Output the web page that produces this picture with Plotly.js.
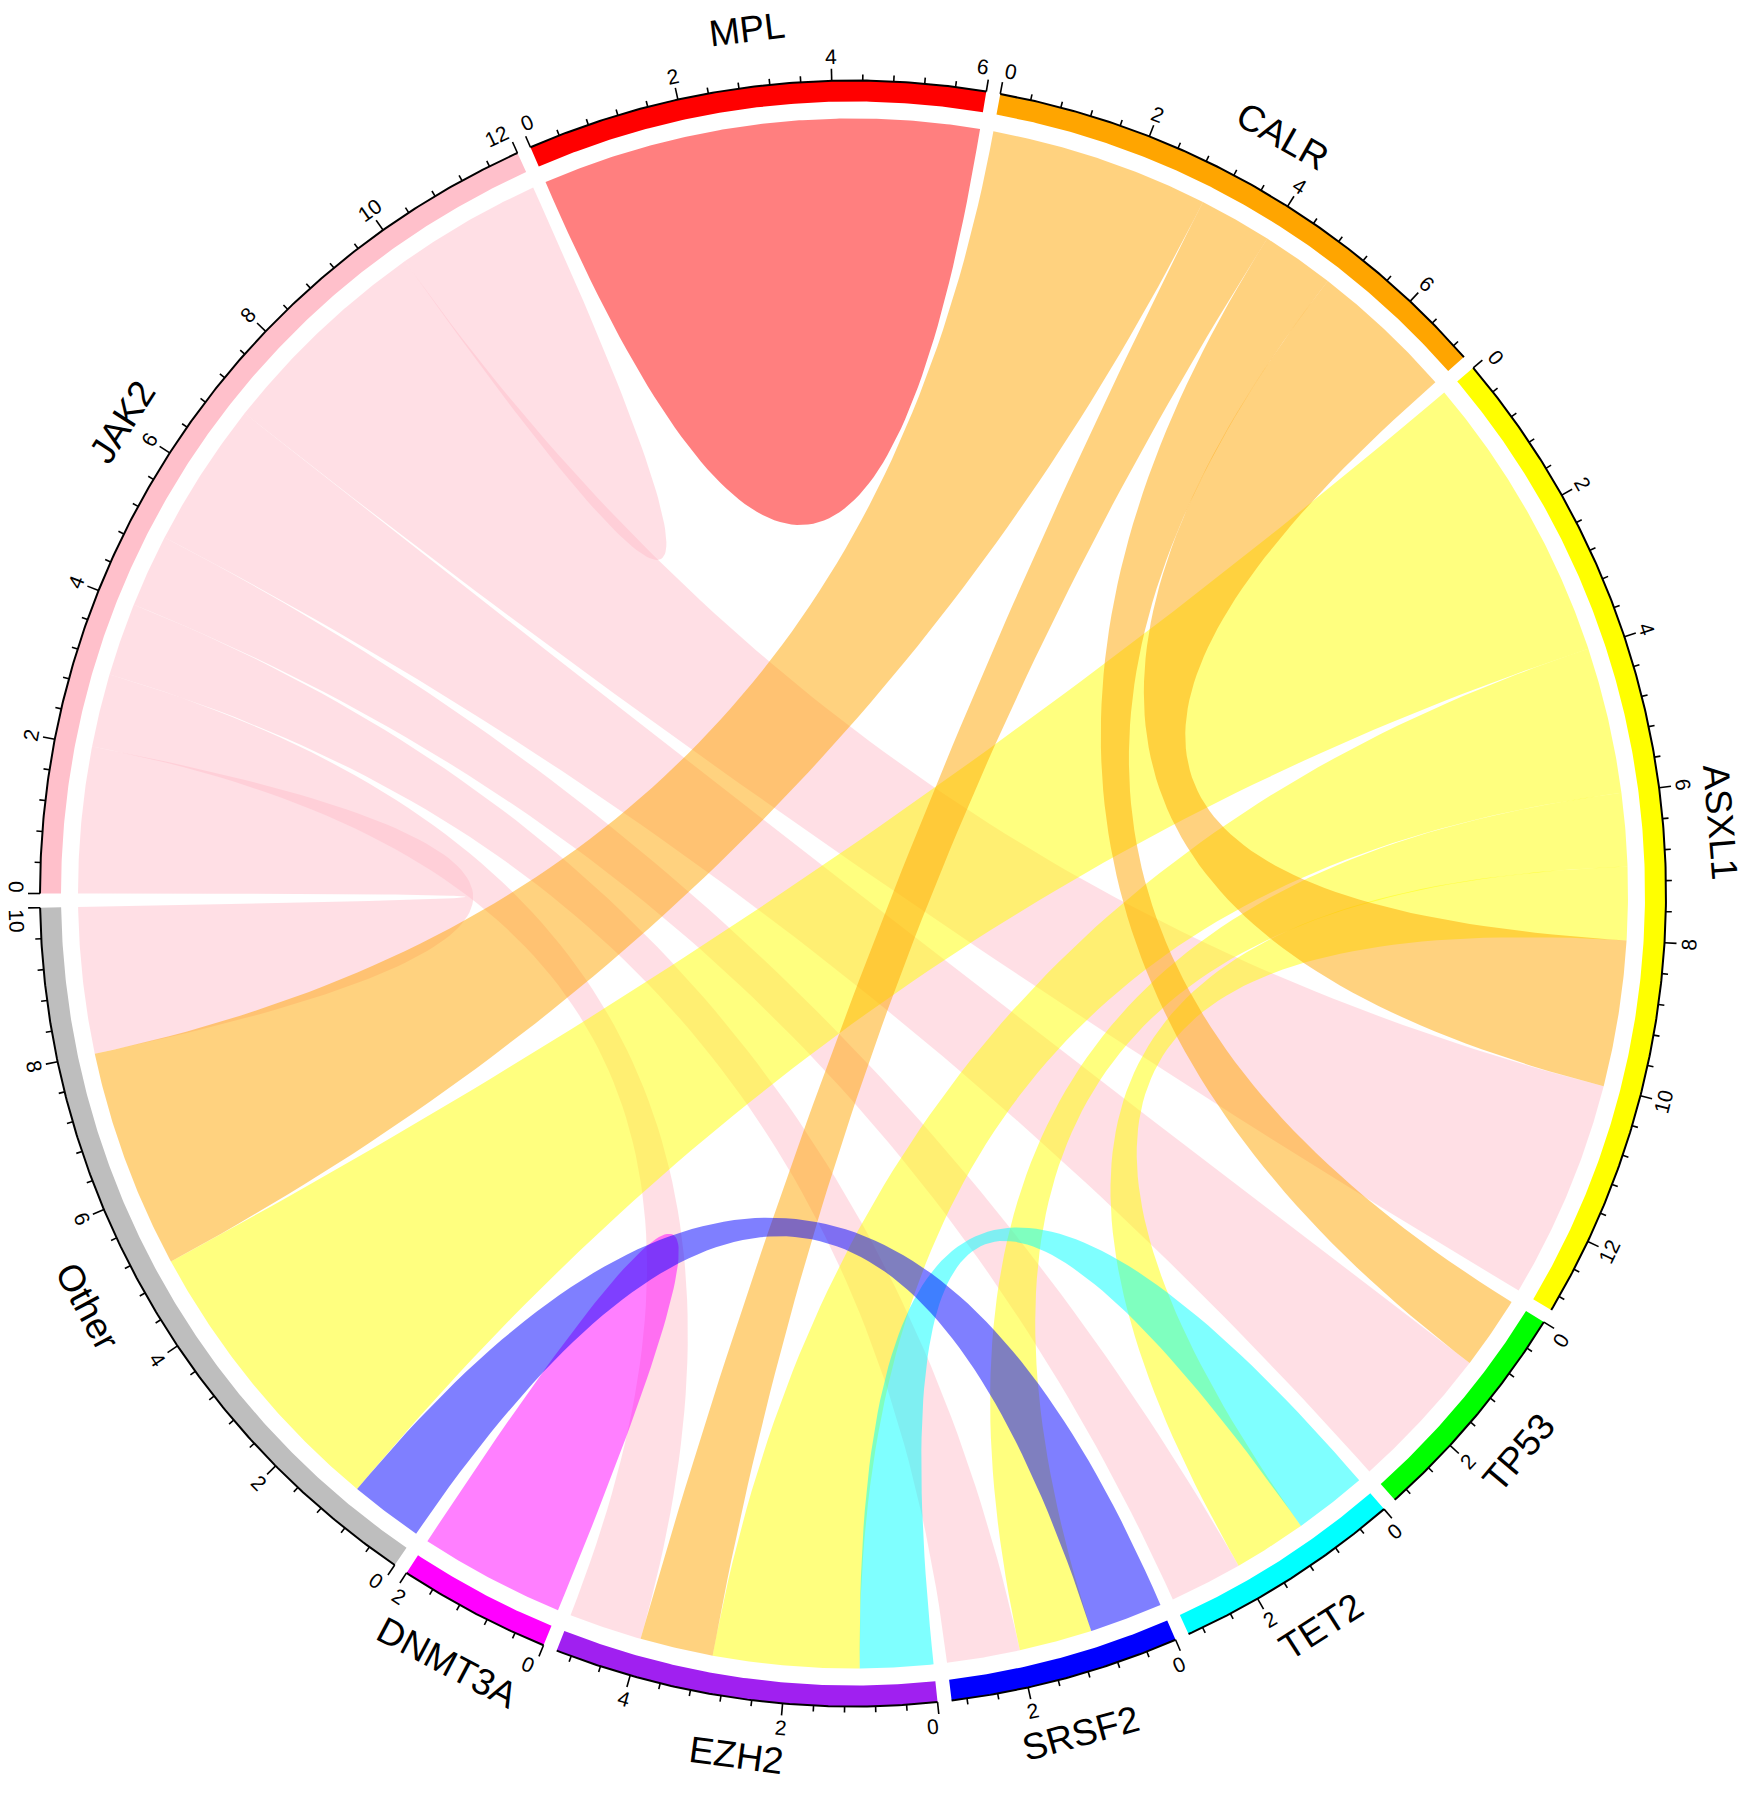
<!DOCTYPE html>
<html>
<head>
<meta charset="utf-8">
<script src="https://cdn.plot.ly/plotly-3.0.1.min.js"></script>
<style>body{margin:0;background:#fff}</style>
</head>
<body>
<div id="chord" style="width:1759px;height:1800px"></div>
<script>
// sectors, clockwise starting at 9 o'clock
var genes = ["JAK2", "MPL", "CALR", "ASXL1", "TP53", "TET2", "SRSF2", "EZH2", "DNMT3A", "Other"];
var geneColors = ["#FFC0CB", "#FF0000", "#FFA500", "#FFFF00", "#00FF00", "#00FFFF", "#0000FF", "#A020F0", "#FF00FF", "#BEBEBE"];

// co-mutation links, in drawing order (first one is at the bottom)
var linkFrom  = ["JAK2", "JAK2", "JAK2", "JAK2", "JAK2", "JAK2", "JAK2",
                 "ASXL1", "ASXL1", "ASXL1", "ASXL1",
                 "CALR", "CALR", "CALR", "CALR",
                 "MPL", "DNMT3A", "TET2", "SRSF2"];
var linkTo    = ["Other", "EZH2", "SRSF2", "TET2", "TP53", "ASXL1", "JAK2",
                 "Other", "EZH2", "SRSF2", "TET2",
                 "Other", "EZH2", "TP53", "ASXL1",
                 "MPL", "DNMT3A", "EZH2", "Other"];
var linkValue = [2, 1, 1, 1, 2, 3, 1,
                 4, 2, 1, 1,
                 3, 1, 1, 2,
                 3, 1, 1, 1];

// geometry (pixels, centre of the circle at 0,0)
var R_LINK = 775, R_IN = 792, R_OUT = 813, R_TICKLAB = 837, R_NAME = 870;
var GAP = 1, START = 180, H_RATIO = 0.5;
var TICK_FONT = 21, NAME_FONT = 37;
var D2R = Math.PI / 180;

function idx(g) { return genes.indexOf(g); }
function rgba(hex, a) {
  var v = parseInt(hex.slice(1), 16);
  return "rgba(" + (v >> 16 & 255) + "," + (v >> 8 & 255) + "," + (v & 255) + "," + a + ")";
}

// sector sizes come from the links
var size = genes.map(function () { return 0; });
linkFrom.forEach(function (f, k) {
  size[idx(f)] += linkValue[k];
  size[idx(linkTo[k])] += linkValue[k];
});
var total = size.reduce(function (a, b) { return a + b; }, 0);
var unit = (360 - genes.length * GAP) / total;
var secStart = [];
var a0 = START;
genes.forEach(function (g, i) { secStart.push(a0); a0 -= size[i] * unit + GAP; });
function ang(i, p) { return secStart[i] - p * unit; }
function pt(theta, r) { return [r * Math.cos(theta * D2R), r * Math.sin(theta * D2R)]; }

// place link ends inside each sector: partners sorted by sector index, descending
var ends = genes.map(function () { return []; });
linkFrom.forEach(function (f, k) {
  var i = idx(f), j = idx(linkTo[k]);
  ends[i].push({k: k, e: 0, partner: j});
  ends[j].push({k: k, e: 1, partner: i});
});
var pos = linkFrom.map(function () { return [null, null]; });
ends.forEach(function (list, i) {
  list.sort(function (a, b) { return b.partner - a.partner || a.e - b.e; });
  var c = 0;
  list.forEach(function (o) {
    pos[o.k][o.e] = [c, c + linkValue[o.k]];
    c += linkValue[o.k];
  });
});

function arc(theta1, theta2, r, xs, ys) {
  var n = Math.max(2, Math.ceil(Math.abs(theta1 - theta2) / 0.25));
  for (var s = 0; s <= n; s++) {
    var p = pt(theta1 + (theta2 - theta1) * s / n, r);
    xs.push(p[0]); ys.push(p[1]);
  }
}
// quadratic curve between two link points; its top sits H_RATIO of the way to the centre
function bezier(t1, t2, xs, ys) {
  var p = pt(t1, R_LINK), q = pt(t2, R_LINK);
  var m = [(p[0] + q[0]) / 2, (p[1] + q[1]) / 2], d = Math.hypot(m[0], m[1]);
  var h = H_RATIO * d;
  var c = d > 1e-6 ? [m[0] - 2 * h * m[0] / d, m[1] - 2 * h * m[1] / d] : m;
  for (var s = 1; s < 80; s++) {
    var t = s / 80, u = 1 - t;
    xs.push(u * u * p[0] + 2 * u * t * c[0] + t * t * q[0]);
    ys.push(u * u * p[1] + 2 * u * t * c[1] + t * t * q[1]);
  }
}

var traces = [];

// chords
linkFrom.forEach(function (f, k) {
  var i = idx(f), j = idx(linkTo[k]);
  var s1 = ang(i, pos[k][0][0]), e1 = ang(i, pos[k][0][1]);
  var s2 = ang(j, pos[k][1][0]), e2 = ang(j, pos[k][1][1]);
  var xs = [], ys = [];
  arc(s1, e1, R_LINK, xs, ys);
  bezier(e1, s2, xs, ys);
  arc(s2, e2, R_LINK, xs, ys);
  bezier(e2, s1, xs, ys);
  traces.push({
    type: "scatter", mode: "lines", x: xs, y: ys, fill: "toself",
    fillcolor: rgba(geneColors[i], 0.5), line: {width: 0}, hoverinfo: "skip"
  });
});

// outer tracks
genes.forEach(function (g, i) {
  var xs = [], ys = [];
  arc(ang(i, 0), ang(i, size[i]), R_OUT, xs, ys);
  arc(ang(i, size[i]), ang(i, 0), R_IN, xs, ys);
  traces.push({
    type: "scatter", mode: "lines", x: xs, y: ys, fill: "toself",
    fillcolor: geneColors[i], line: {width: 0}, hoverinfo: "skip"
  });
});

// axes with ticks
var annotations = [];
function facing(theta) {
  var t = ((theta % 360) + 360) % 360;
  var rot = (t > 180 && t < 360) ? 270 - t : 90 - t;
  while (rot > 180) rot -= 360;
  while (rot <= -180) rot += 360;
  return rot;
}
var tx = [], ty = [];
genes.forEach(function (g, i) {
  var xs = [], ys = [];
  arc(ang(i, 0), ang(i, size[i]), R_OUT, xs, ys);
  traces.push({type: "scatter", mode: "lines", x: xs, y: ys,
               line: {color: "black", width: 2}, hoverinfo: "skip"});
  for (var m = 0; m * 0.4 <= size[i] + 1e-9; m++) {
    var p = m * 0.4, th = ang(i, p), major = (m % 5 === 0);
    var a = pt(th, R_OUT), b = pt(th, R_OUT + (major ? 12 : 6));
    tx.push(a[0], b[0], null); ty.push(a[1], b[1], null);
    if (major) {
      var txt = String(Math.round(p));
      // labels at the sector ends are kept inside the sector
      var half = txt.length * 0.556 * TICK_FONT / 2 + 1;
      var lth = th;
      if (p === 0) lth = th - half / R_TICKLAB / D2R;
      else if (Math.abs(p - size[i]) < 1e-9) lth = th + half / R_TICKLAB / D2R;
      var l = pt(lth, R_TICKLAB);
      annotations.push({x: l[0], y: l[1], text: txt, showarrow: false,
        textangle: facing(lth), xanchor: "center", yanchor: "middle",
        font: {family: "Liberation Sans, Arial, sans-serif", size: TICK_FONT, color: "black"}});
    }
  }
  var mth = ang(i, size[i] / 2), lp = pt(mth, R_NAME);
  annotations.push({x: lp[0], y: lp[1], text: g, showarrow: false,
    textangle: facing(mth), xanchor: "center", yanchor: "middle",
    font: {family: "Liberation Sans, Arial, sans-serif", size: NAME_FONT, color: "black"}});
});
traces.push({type: "scatter", mode: "lines", x: tx, y: ty,
             line: {color: "black", width: 1.6}, hoverinfo: "skip"});

var layout = {
  width: 1759, height: 1800,
  margin: {l: 0, r: 0, t: 0, b: 0},
  xaxis: {range: [-853, 906], visible: false, fixedrange: true},
  yaxis: {range: [-906.5, 893.5], visible: false, fixedrange: true},
  showlegend: false,
  paper_bgcolor: "white", plot_bgcolor: "white",
  annotations: annotations
};
Plotly.newPlot("chord", traces, layout, {staticPlot: true});
</script>
</body>
</html>
